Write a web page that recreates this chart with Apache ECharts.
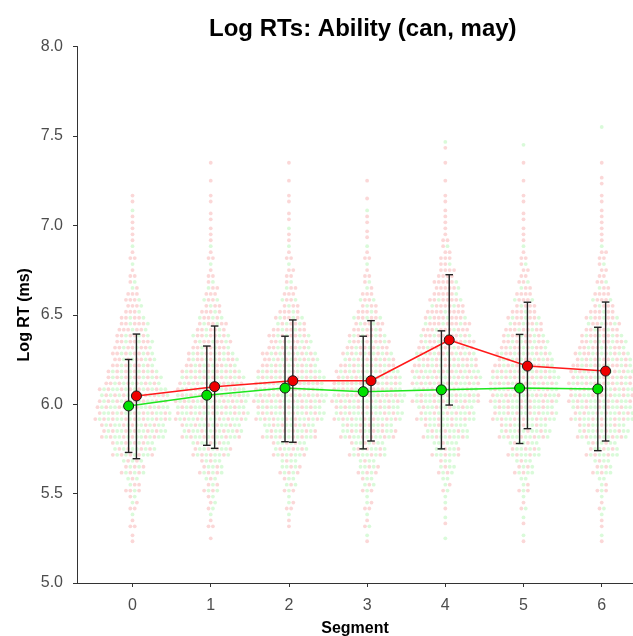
<!DOCTYPE html>
<html>
<head>
<meta charset="utf-8">
<script src="https://cdn.jsdelivr.net/npm/echarts@6/dist/echarts.min.js"></script>
<style>html,body{margin:0;padding:0;background:#fff;}#chart{width:633px;height:636px;}</style>
</head>
<body>
<div id="chart"></div>
<script>
// ---------- data ----------
const segments = [0, 1, 2, 3, 4, 5, 6];
const yTicks = [5.0, 5.5, 6.0, 6.5, 7.0, 7.5, 8.0];

const greenMean = [5.99, 6.05, 6.09, 6.07, 6.08, 6.09, 6.085];
const greenLow  = [5.73, 5.77, 5.79, 5.75, 5.75, 5.78, 5.74];
const greenHigh = [6.25, 6.325, 6.38, 6.38, 6.41, 6.39, 6.43];

const redMean = [6.046, 6.098, 6.131, 6.131, 6.359, 6.213, 6.185];
const redLow  = [5.695, 5.753, 5.787, 5.794, 5.995, 5.863, 5.794];
const redHigh = [6.392, 6.437, 6.471, 6.467, 6.724, 6.570, 6.571];

// swarm: counts of raw points per 0.1 bin (bin centers below), per segment
const binCenters = [5.25, 5.35, 5.45, 5.55, 5.65, 5.75, 5.85, 5.95, 6.05, 6.15, 6.25, 6.35,
                    6.45, 6.55, 6.65, 6.75, 6.85, 6.95, 7.05, 7.15, 7.25, 7.35, 7.45, 7.55];
const swarmGreen = [
  [0, 1, 2, 4, 8, 17, 27, 30, 26, 18, 12, 9, 6, 3, 2, 1, 1, 0, 1, 0, 0, 0, 0, 0],
  [0, 1, 3, 5, 9, 16, 26, 30, 28, 22, 15, 10, 7, 4, 2, 1, 1, 0, 0, 0, 0, 0, 0, 0],
  [0, 1, 2, 5, 8, 14, 22, 28, 28, 25, 18, 12, 8, 4, 2, 1, 1, 1, 0, 0, 0, 0, 0, 0],
  [1, 2, 2, 5, 8, 15, 23, 28, 28, 24, 17, 11, 7, 4, 2, 1, 1, 0, 1, 0, 0, 0, 0, 0],
  [1, 1, 2, 4, 7, 13, 21, 26, 28, 26, 19, 13, 8, 5, 3, 1, 1, 0, 0, 0, 0, 0, 1, 0],
  [1, 1, 2, 4, 8, 14, 22, 27, 28, 25, 18, 12, 8, 4, 2, 1, 1, 0, 0, 0, 0, 0, 1, 0],
  [1, 1, 2, 4, 8, 14, 22, 26, 27, 24, 18, 12, 8, 4, 2, 1, 1, 0, 0, 0, 0, 0, 0, 1]
];
const swarmRed = [
  [2, 3, 4, 6, 8, 13, 18, 22, 22, 20, 18, 17, 14, 9, 5, 3, 3, 3, 2, 2, 0, 0, 0, 0],
  [1, 3, 3, 5, 7, 11, 16, 20, 22, 22, 20, 17, 13, 9, 6, 3, 3, 3, 2, 2, 1, 1, 0, 0],
  [0, 2, 3, 4, 6, 10, 15, 19, 22, 22, 21, 18, 14, 9, 6, 4, 3, 2, 2, 2, 1, 1, 0, 0],
  [1, 2, 3, 4, 6, 10, 15, 19, 22, 22, 20, 18, 14, 9, 5, 3, 3, 2, 2, 1, 1, 0, 0, 0],
  [0, 1, 1, 2, 4, 6, 10, 14, 18, 22, 24, 25, 24, 20, 15, 10, 6, 4, 3, 2, 1, 1, 1, 0],
  [1, 1, 2, 3, 5, 8, 13, 17, 20, 22, 22, 20, 17, 12, 8, 5, 3, 3, 2, 2, 1, 1, 0, 0],
  [1, 2, 2, 3, 5, 8, 13, 17, 20, 22, 22, 20, 16, 12, 8, 5, 4, 3, 3, 2, 2, 1, 0, 0]
];

// ---------- layout constants ----------
const DODGE = 0.05;          // offset of the two groups around a segment (axis units)
const BIN = 0.1;
const ROWS = 3;              // rows of dots per bin
const DOT_STEP = 0.056;      // horizontal dot spacing (axis units)

function buildSwarm() {
  const g = [], r = [];
  segments.forEach((s, si) => {
    binCenters.forEach((c, i) => {
      const ng = swarmGreen[si][i], nr = swarmRed[si][i], n = ng + nr;
      if (!n) return;
      const seq = [];
      for (let t = 0; t < n; t++) {
        seq.push(Math.floor((t + 1) * ng / n) > Math.floor(t * ng / n) ? 'g' : 'r');
      }
      const rows = Math.min(ROWS, n);
      let idx = 0;
      for (let k = 0; k < rows; k++) {
        const m = Math.floor(n / rows) + (k < n % rows ? 1 : 0);
        const y = c + (k - (rows - 1) / 2) * BIN / ROWS;
        const shift = (k % 2) ? DOT_STEP / 2 : 0;
        for (let j = 0; j < m; j++) {
          const x = s + (j - (m - 1) / 2) * DOT_STEP + (m > 1 ? shift : 0);
          (seq[idx++] === 'g' ? g : r).push([x, y]);
        }
      }
    });
  });
  return { g, r };
}
const swarm = buildSwarm();

function errorBar(color) {
  return function (params, api) {
    const x = api.value(0), lo = api.value(1), hi = api.value(2);
    const a = api.coord([x, hi]), b = api.coord([x, lo]);
    const w = 3.8;
    const st = { stroke: color, lineWidth: 1.4 };
    return {
      type: 'group',
      children: [
        { type: 'line', shape: { x1: a[0], y1: a[1], x2: b[0], y2: b[1] }, style: st },
        { type: 'line', shape: { x1: a[0] - w, y1: a[1], x2: a[0] + w, y2: a[1] }, style: st },
        { type: 'line', shape: { x1: b[0] - w, y1: b[1], x2: b[0] + w, y2: b[1] }, style: st }
      ]
    };
  };
}

const FONT = '"Liberation Sans", Arial, sans-serif';
const chart = echarts.init(document.getElementById('chart'), null, { renderer: 'canvas' });

chart.setOption({
  animation: false,
  backgroundColor: '#fff',
  title: {
    text: 'Log RTs: Ability (can, may)',
    left: 204, top: 12,
    textStyle: { fontFamily: FONT, fontSize: 24, fontWeight: 'bold', color: '#000' }
  },
  grid: { left: 77, right: 0, top: 46.5, bottom: 53, containLabel: false, outerBoundsMode: 'none' },
  xAxis: {
    type: 'value', min: -0.71, max: 6.4,
    name: 'Segment', nameLocation: 'middle', nameGap: 38, nameMoveOverlap: false,
    nameTextStyle: { fontFamily: FONT, fontSize: 16, fontWeight: 'bold', color: '#000' },
    axisLine: { show: true, onZero: false, lineStyle: { color: '#333', width: 1 } },
    axisTick: { show: true, length: 4, customValues: segments, lineStyle: { color: '#333' } },
    axisLabel: { customValues: segments, margin: 15, fontFamily: FONT, fontSize: 16, color: '#4d4d4d' },
    splitLine: { show: false }
  },
  yAxis: {
    type: 'value', min: 5, max: 8, interval: 0.5,
    name: 'Log RT (ms)', nameLocation: 'middle', nameGap: 44, nameRotate: 90, nameMoveOverlap: false,
    nameTextStyle: { fontFamily: FONT, fontSize: 16, fontWeight: 'bold', color: '#000' },
    axisLine: { show: true, onZero: false, lineStyle: { color: '#333', width: 1 } },
    axisTick: { show: true, length: 4, customValues: yTicks, lineStyle: { color: '#333' } },
    axisLabel: { customValues: yTicks, margin: 14, fontFamily: FONT, fontSize: 16, color: '#4d4d4d',
                 formatter: v => Number(v).toFixed(1) },
    splitLine: { show: false }
  },
  series: [
    { type: 'scatter', name: 'swarm-green', data: swarm.g, symbolSize: 3.8, silent: true, z: 1,
      itemStyle: { color: 'rgba(110,235,110,0.33)' } },
    { type: 'scatter', name: 'swarm-red', data: swarm.r, symbolSize: 3.8, silent: true, z: 1,
      itemStyle: { color: 'rgba(240,100,100,0.32)' } },
    { type: 'line', name: 'can', data: segments.map((s, i) => [s - DODGE, greenMean[i]]),
      showSymbol: false, z: 2, lineStyle: { color: '#1ee61e', width: 1.5 } },
    { type: 'line', name: 'may', data: segments.map((s, i) => [s + DODGE, redMean[i]]),
      showSymbol: false, z: 2, lineStyle: { color: '#ff1a1a', width: 1.5 } },
    { type: 'custom', name: 'can-err', z: 3, renderItem: errorBar('#222'),
      data: segments.map((s, i) => [s - DODGE, greenLow[i], greenHigh[i]]) },
    { type: 'custom', name: 'may-err', z: 3, renderItem: errorBar('#222'),
      data: segments.map((s, i) => [s + DODGE, redLow[i], redHigh[i]]) },
    { type: 'scatter', name: 'can-mean', z: 4, symbolSize: 10,
      data: segments.map((s, i) => [s - DODGE, greenMean[i]]),
      itemStyle: { color: '#00e000', borderColor: '#1a1a1a', borderWidth: 1, opacity: 1 } },
    { type: 'scatter', name: 'may-mean', z: 4, symbolSize: 10,
      data: segments.map((s, i) => [s + DODGE, redMean[i]]),
      itemStyle: { color: '#ee0000', borderColor: '#1a1a1a', borderWidth: 1, opacity: 1 } }
  ]
});
</script>
</body>
</html>
